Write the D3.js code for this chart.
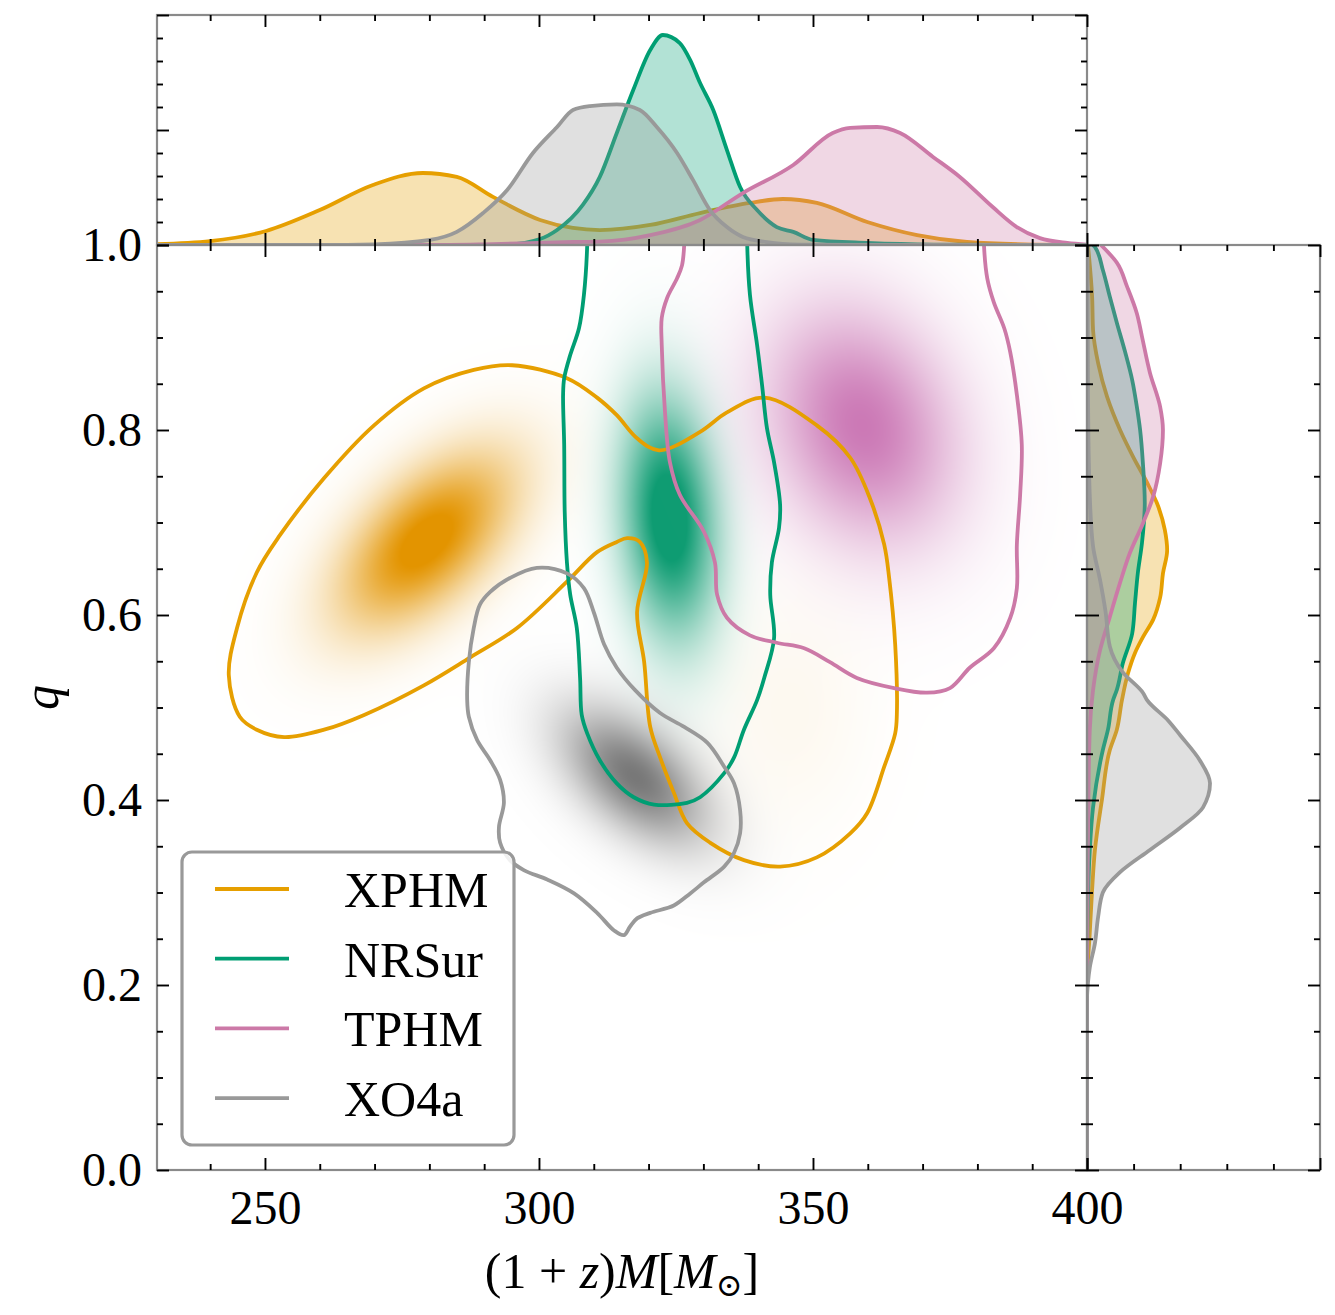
<!DOCTYPE html>
<html><head><meta charset="utf-8">
<script src="https://cdn.jsdelivr.net/npm/d3@7"></script>
<style>
body{margin:0;background:#fff}
svg{display:block}
text{font-family:"Liberation Serif","DejaVu Serif",serif;fill:#000}
</style>
</head><body>
<svg id="chart" width="1335" height="1315"></svg>
<script>
// ---------------- data ----------------
const models = ["XPHM", "NRSur", "TPHM", "XO4a"];
const lineColors = ["#E69F00", "#009E73", "#CC79A7", "#999999"];
const shadeColors = ["#E39400", "#0E9C72", "#C972B2", "#606060"];

const xTicksMajor = [250, 300, 350, 400];
const xTicksMinor = [240, 260, 270, 280, 290, 310, 320, 330, 340, 360, 370, 380, 390];
const qTicksMajor = [0.0, 0.2, 0.4, 0.6, 0.8, 1.0];
const qTicksMinor = [0.05, 0.1, 0.15, 0.25, 0.3, 0.35, 0.45, 0.5, 0.55, 0.65, 0.7, 0.75, 0.85, 0.9, 0.95];
const topTicksMajor = [0, 0.5, 1.0];
const topTicksMinor = [0.1, 0.2, 0.3, 0.4, 0.6, 0.7, 0.8, 0.9];
const rightTicksMajor = [0, 5];
const rightTicksMinor = [1, 2, 3, 4];

// 90% contours: [mass, q]
const xphmContour = [[295.1,0.870],[305.1,0.856],[310.6,0.835],[314.2,0.816],[317.9,0.791],[321.9,0.778],[329.4,0.798],[334.3,0.819],[341.1,0.835],[350.7,0.805],[356.8,0.770],[360.4,0.726],[363.0,0.676],[363.9,0.640],[365.0,0.568],[365.3,0.492],[365.0,0.472],[363.0,0.436],[359.9,0.386],[356.8,0.364],[350.7,0.338],[344.0,0.328],[337.4,0.335],[331.2,0.354],[327.0,0.375],[324.6,0.408],[322.1,0.446],[320.3,0.479],[319.2,0.549],[317.9,0.603],[319.7,0.657],[318.4,0.679],[316.1,0.683],[314.2,0.679],[310.6,0.668],[305.1,0.636],[296.0,0.586],[287.4,0.554],[279.0,0.524],[268.1,0.492],[260.8,0.476],[253.5,0.468],[248.5,0.476],[245.4,0.490],[243.4,0.535],[244.9,0.586],[248.5,0.646],[252.7,0.686],[260.8,0.748],[269.9,0.805],[279.0,0.845],[288.1,0.865]];
const nrsurContour = [[308.8,1.0],[308.2,0.946],[307.3,0.910],[305.7,0.881],[304.6,0.856],[304.4,0.838],[304.6,0.784],[304.7,0.711],[305.1,0.657],[305.7,0.622],[306.9,0.586],[307.5,0.532],[307.8,0.492],[308.8,0.472],[311.1,0.443],[314.2,0.418],[317.3,0.403],[321.0,0.395],[327.0,0.397],[329.4,0.403],[333.8,0.429],[335.6,0.446],[337.4,0.476],[339.8,0.508],[341.1,0.532],[342.9,0.575],[342.2,0.622],[342.5,0.657],[343.8,0.694],[344.0,0.719],[342.9,0.765],[341.6,0.802],[340.7,0.849],[339.8,0.892],[338.5,0.946],[338.0,1.0],[338.0,1.04],[308.8,1.04]];
const tphmContour = [[326.5,1.0],[326.1,0.978],[325.2,0.964],[323.4,0.943],[322.4,0.921],[322.4,0.892],[323.0,0.819],[323.9,0.765],[325.7,0.730],[330.1,0.690],[332.1,0.657],[332.5,0.622],[334.3,0.597],[338.5,0.578],[343.4,0.570],[348.4,0.564],[353.1,0.549],[358.0,0.532],[364.8,0.521],[370.8,0.516],[375.0,0.521],[378.6,0.543],[383.0,0.564],[386.0,0.597],[387.2,0.629],[387.2,0.676],[387.8,0.730],[388.1,0.784],[387.2,0.838],[386.0,0.884],[384.9,0.910],[383.0,0.938],[381.8,0.964],[381.2,1.0],[381.2,1.04],[326.5,1.04]];
const xo4aContour = [[299.6,0.651],[305.1,0.645],[308.2,0.629],[310.0,0.603],[311.9,0.568],[314.2,0.543],[317.5,0.519],[322.1,0.494],[326.5,0.479],[330.7,0.462],[333.8,0.436],[335.6,0.418],[336.7,0.389],[336.7,0.364],[335.6,0.343],[333.8,0.328],[330.1,0.311],[327.6,0.299],[324.6,0.286],[320.3,0.278],[317.9,0.272],[316.6,0.263],[315.5,0.254],[313.7,0.259],[310.6,0.278],[306.4,0.299],[301.5,0.314],[297.3,0.324],[294.7,0.335],[292.9,0.354],[292.7,0.371],[293.6,0.397],[292.9,0.422],[291.1,0.443],[288.7,0.465],[287.2,0.490],[286.9,0.508],[287.2,0.549],[288.1,0.586],[289.2,0.611],[291.1,0.625],[294.7,0.640]];

// density shading components: [mass centre, q centre, sigma mass, sigma q, correlation, peak]
const xphmBlobs = [[279.5,0.680,10.8,0.064,0.55,1.1],[346.0,0.495,10.0,0.090,0.0,0.06]];
const nrsurBlobs = [[323.8,0.705,6.0,0.088,-0.15,1.15]];
const tphmBlobs = [[359.0,0.805,12.0,0.088,-0.2,0.95]];
const xo4aBlobs = [[317.5,0.425,9.2,0.051,-0.53,0.85]];

// marginal of mass (top): [mass, density]
const xphmTop = [[230.3,0.004],[240,0.017],[250.2,0.061],[260,0.152],[269.7,0.261],[278.8,0.313],[285,0.296],[291.6,0.209],[300.2,0.109],[306.2,0.074],[311.1,0.065],[320.3,0.087],[329.4,0.139],[338.5,0.183],[344.5,0.200],[350.7,0.183],[359.9,0.100],[369,0.043],[378.1,0.013],[390.1,0.002],[400,0]];
const nrsurTop = [[230.3,0],[290,0],[294.2,0.002],[300.2,0.026],[303.3,0.065],[308,0.174],[311.1,0.296],[314.2,0.487],[317.2,0.674],[320.3,0.848],[322.6,0.913],[325.7,0.878],[327.6,0.804],[329.4,0.704],[331.8,0.587],[334.3,0.413],[336.7,0.252],[339.8,0.152],[343.4,0.078],[346.4,0.057],[350,0.022],[359.9,0.009],[371.9,0.002],[400,0]];
const tphmTop = [[230.3,0],[280,0],[290,0.003],[306.2,0.013],[311.1,0.015],[320.3,0.043],[329.4,0.109],[337.2,0.226],[346.4,0.348],[353.6,0.487],[356.8,0.509],[361.7,0.513],[365.9,0.487],[371.9,0.383],[376.8,0.296],[382.8,0.165],[387.2,0.078],[391.4,0.030],[396.4,0.009],[400,0.002]];
const xo4aTop = [[230.3,0],[260,0],[270,0.003],[280.1,0.022],[285,0.057],[289.8,0.139],[294.2,0.239],[298.9,0.400],[303.3,0.513],[306.2,0.587],[309.3,0.604],[314.2,0.611],[318.4,0.587],[321.5,0.513],[325.2,0.400],[328.1,0.283],[331.2,0.152],[334.3,0.078],[337.2,0.035],[341.6,0.013],[347.6,0.002],[360,0],[400,0]];

// marginal of q (right): [q, density]
const xphmRight = [[1.0,0.02],[0.944,0.11],[0.908,0.13],[0.872,0.24],[0.836,0.43],[0.800,0.71],[0.771,0.99],[0.743,1.29],[0.721,1.50],[0.692,1.67],[0.670,1.72],[0.645,1.63],[0.619,1.57],[0.595,1.42],[0.576,1.20],[0.559,1.03],[0.537,0.88],[0.508,0.75],[0.476,0.64],[0.454,0.49],[0.400,0.32],[0.346,0.17],[0.303,0.11],[0.257,0.06],[0.20,0.0],[0.0,0.0]];
const nrsurRight = [[1.0,0.13],[0.998,0.17],[0.973,0.34],[0.944,0.49],[0.916,0.64],[0.884,0.82],[0.854,0.97],[0.825,1.07],[0.800,1.14],[0.764,1.20],[0.721,1.24],[0.678,1.18],[0.645,1.09],[0.613,1.03],[0.580,0.97],[0.548,0.77],[0.519,0.64],[0.508,0.56],[0.476,0.45],[0.454,0.34],[0.392,0.13],[0.346,0.06],[0.292,0.02],[0.2,0.0],[0.0,0.0]];
const tphmRight = [[1.0,0.30],[0.981,0.64],[0.955,0.86],[0.926,1.07],[0.901,1.18],[0.862,1.35],[0.825,1.57],[0.800,1.63],[0.764,1.57],[0.728,1.42],[0.699,1.20],[0.667,0.92],[0.635,0.71],[0.598,0.49],[0.562,0.28],[0.519,0.13],[0.476,0.06],[0.40,0.03],[0.29,0.01],[0.2,0.0],[0.0,0.0]];
const xo4aRight = [[1.0,0.01],[0.85,0.02],[0.764,0.04],[0.728,0.06],[0.674,0.13],[0.638,0.28],[0.603,0.40],[0.566,0.49],[0.538,0.77],[0.516,1.20],[0.508,1.29],[0.486,1.74],[0.470,2.00],[0.443,2.42],[0.418,2.64],[0.392,2.49],[0.370,2.00],[0.346,1.35],[0.322,0.71],[0.300,0.34],[0.274,0.24],[0.245,0.17],[0.219,0.06],[0.202,0.02],[0.184,0.0],[0.0,0.0]];

const contours = [xphmContour, nrsurContour, tphmContour, xo4aContour];
const blobs = [xphmBlobs, nrsurBlobs, tphmBlobs, xo4aBlobs];
const tops = [xphmTop, nrsurTop, tphmTop, xo4aTop];
const rights = [xphmRight, nrsurRight, tphmRight, xo4aRight];

// ---------------- layout ----------------
const L = 157, R = 1087, T = 245, B = 1170, TT = 15, RR = 1320;
const x = d3.scaleLinear().domain([230.3, 400]).range([L, R]);
const y = d3.scaleLinear().domain([0, 1]).range([B, T]);
const yTop = d3.scaleLinear().domain([0, 1]).range([T, TT]);
const xR = d3.scaleLinear().domain([0, 5]).range([R, RR]);
const LW = 3.8;

const svg = d3.select("#chart");
const defs = svg.append("defs");
defs.append("clipPath").attr("id", "clipMain").append("rect")
  .attr("x", L).attr("y", T).attr("width", R - L).attr("height", B - T);
defs.append("clipPath").attr("id", "clipTop").append("rect")
  .attr("x", L).attr("y", TT).attr("width", R - L).attr("height", T - TT);
defs.append("clipPath").attr("id", "clipRight").append("rect")
  .attr("x", R).attr("y", T).attr("width", RR - R).attr("height", B - T);

// ---------------- density shading ----------------
(function () {
  const x0 = x.range()[0], y0 = y.range()[1];
  const W = Math.round(x.range()[1] - x0), H = Math.round(y.range()[0] - y0);
  const cv = document.createElement("canvas");
  cv.width = W; cv.height = H;
  const ctx = cv.getContext("2d");
  const img = ctx.createImageData(W, H);
  const cols = shadeColors.map(c => d3.rgb(c));
  const prepared = blobs.map(list => list.map(b => {
    const [cx, cq, sx, sq, rho, w] = b;
    return {cx, cq, isx: 1 / sx, isq: 1 / sq, rho, w, f: 1 / (1 - rho * rho)};
  }));
  for (let j = 0; j < H; j++) {
    const q = y.invert(y0 + j + 0.5);
    for (let i = 0; i < W; i++) {
      const m = x.invert(x0 + i + 0.5);
      let r = 255, g = 255, bl = 255;
      for (let k = 0; k < prepared.length; k++) {
        let a = 0;
        for (const p of prepared[k]) {
          const u = (m - p.cx) * p.isx, v = (q - p.cq) * p.isq;
          const Q = (u * u - 2 * p.rho * u * v + v * v) * p.f;
          if (Q < 40) a += p.w * Math.exp(-0.5 * Q);
        }
        if (a > 1) a = 1;
        const c = cols[k];
        r = r * (1 - a) + c.r * a;
        g = g * (1 - a) + c.g * a;
        bl = bl * (1 - a) + c.b * a;
      }
      const idx = (j * W + i) * 4;
      img.data[idx] = r; img.data[idx + 1] = g; img.data[idx + 2] = bl; img.data[idx + 3] = 255;
    }
  }
  ctx.putImageData(img, 0, 0);
  svg.append("image").attr("href", cv.toDataURL())
    .attr("x", x0).attr("y", y0).attr("width", W).attr("height", H)
    .attr("preserveAspectRatio", "none");
})();

// ---------------- contours ----------------
const contourLine = d3.line().x(d => x(d[0])).y(d => y(d[1])).curve(d3.curveCatmullRomClosed.alpha(0.5));
const gc = svg.append("g").attr("clip-path", "url(#clipMain)");
contours.forEach((c, k) => {
  gc.append("path").attr("d", contourLine(c))
    .attr("fill", "none").attr("stroke", lineColors[k]).attr("stroke-width", LW)
    .attr("stroke-linejoin", "round");
});

// ---------------- top marginal ----------------
const gt = svg.append("g").attr("clip-path", "url(#clipTop)");
const topArea = d3.area().x(d => x(d[0])).y0(yTop(0)).y1(d => yTop(d[1])).curve(d3.curveMonotoneX);
const topLine = d3.line().x(d => x(d[0])).y(d => yTop(d[1])).curve(d3.curveMonotoneX);
tops.forEach((t, k) => {
  gt.append("path").attr("d", topArea(t)).attr("fill", lineColors[k]).attr("fill-opacity", 0.3);
  gt.append("path").attr("d", topLine(t)).attr("fill", "none")
    .attr("stroke", lineColors[k]).attr("stroke-width", LW).attr("stroke-linejoin", "round");
});

// ---------------- right marginal ----------------
const gr = svg.append("g").attr("clip-path", "url(#clipRight)");
const rArea = d3.area().y(d => y(d[0])).x0(xR(0)).x1(d => xR(d[1])).curve(d3.curveMonotoneY);
const rLine = d3.line().y(d => y(d[0])).x(d => xR(d[1])).curve(d3.curveMonotoneY);
rights.forEach((t, k) => {
  const s = t.slice().reverse();
  gr.append("path").attr("d", rArea(s)).attr("fill", lineColors[k]).attr("fill-opacity", 0.3);
  gr.append("path").attr("d", rLine(s)).attr("fill", "none")
    .attr("stroke", lineColors[k]).attr("stroke-width", LW).attr("stroke-linejoin", "round");
});

// ---------------- spines ----------------
const spine = "#8a8a8a";
[[L, T, R - L, B - T], [L, TT, R - L, T - TT], [R, T, RR - R, B - T]].forEach(r => {
  svg.append("rect").attr("x", r[0]).attr("y", r[1]).attr("width", r[2]).attr("height", r[3])
    .attr("fill", "none").attr("stroke", spine).attr("stroke-width", 2.2);
});

// ---------------- ticks ----------------
function ticks(axisGen, scale, vals, len, tx, ty, labels, pad) {
  const a = axisGen(scale).tickValues(vals).tickSize(-len).tickSizeOuter(0);
  if (labels) a.tickFormat(labels).tickPadding(pad); else a.tickFormat("");
  const g = svg.append("g").attr("transform", `translate(${tx},${ty})`).call(a);
  g.select(".domain").remove();
  g.selectAll(".tick line").attr("stroke", "#000").attr("stroke-width", 1.9);
  g.selectAll(".tick text").attr("font-size", 48).attr("fill", "#000")
    .style("font-family", '"Liberation Serif","DejaVu Serif",serif');
  return g;
}
const MJ = 12, MN = 6;
// main
ticks(d3.axisBottom, x, xTicksMajor, MJ, 0, B, d3.format("d"), 20);
ticks(d3.axisBottom, x, xTicksMinor, MN, 0, B);
ticks(d3.axisTop, x, xTicksMajor, MJ, 0, T);
ticks(d3.axisTop, x, xTicksMinor, MN, 0, T);
ticks(d3.axisLeft, y, qTicksMajor, MJ, L, 0, d3.format(".1f"), 15);
ticks(d3.axisLeft, y, qTicksMinor, MN, L, 0);
ticks(d3.axisRight, y, qTicksMajor, MJ, R, 0);
ticks(d3.axisRight, y, qTicksMinor, MN, R, 0);
// top marginal
ticks(d3.axisTop, x, xTicksMajor, MJ, 0, TT);
ticks(d3.axisTop, x, xTicksMinor, MN, 0, TT);
ticks(d3.axisBottom, x, xTicksMajor, MJ, 0, T);
ticks(d3.axisBottom, x, xTicksMinor, MN, 0, T);
ticks(d3.axisLeft, yTop, topTicksMajor, MJ, L, 0);
ticks(d3.axisLeft, yTop, topTicksMinor, MN, L, 0);
ticks(d3.axisRight, yTop, topTicksMajor, MJ, R, 0);
ticks(d3.axisRight, yTop, topTicksMinor, MN, R, 0);
// right marginal
ticks(d3.axisTop, xR, rightTicksMajor, MJ, 0, T);
ticks(d3.axisTop, xR, rightTicksMinor, MN, 0, T);
ticks(d3.axisBottom, xR, rightTicksMajor, MJ, 0, B);
ticks(d3.axisBottom, xR, rightTicksMinor, MN, 0, B);
ticks(d3.axisLeft, y, qTicksMajor, MJ, R, 0);
ticks(d3.axisLeft, y, qTicksMinor, MN, R, 0);
ticks(d3.axisRight, y, qTicksMajor, MJ, RR, 0);
ticks(d3.axisRight, y, qTicksMinor, MN, RR, 0);

// ---------------- axis labels ----------------
const xl = svg.append("text").attr("x", (L + R) / 2).attr("y", 1288)
  .attr("text-anchor", "middle").attr("font-size", 50);
xl.append("tspan").text("(1 + ");
xl.append("tspan").attr("font-style", "italic").text("z");
xl.append("tspan").text(")");
xl.append("tspan").attr("font-style", "italic").text("M");
xl.append("tspan").text("[");
xl.append("tspan").attr("font-style", "italic").text("M");
xl.append("tspan").attr("font-size", 32).attr("dy", 8).style("font-family", '"DejaVu Serif",serif').text("\u2299");
xl.append("tspan").attr("dy", -8).text("]");

svg.append("text").attr("transform", `translate(58,${(T + B) / 2 - 10}) rotate(-90)`)
  .attr("text-anchor", "middle").attr("font-size", 50).attr("font-style", "italic").text("q");

// ---------------- legend ----------------
const lg = svg.append("g");
lg.append("rect").attr("x", 182).attr("y", 852).attr("width", 332).attr("height", 293)
  .attr("rx", 10).attr("fill", "#fff").attr("fill-opacity", 0.85)
  .attr("stroke", "#999").attr("stroke-width", 3.2);
models.forEach((m, k) => {
  const yy = 889 + k * 69.7;
  lg.append("line").attr("x1", 215).attr("x2", 289).attr("y1", yy).attr("y2", yy)
    .attr("stroke", lineColors[k]).attr("stroke-width", LW);
  lg.append("text").attr("x", 344).attr("y", yy + 18).attr("font-size", 50).text(m);
});
</script>
</body></html>
